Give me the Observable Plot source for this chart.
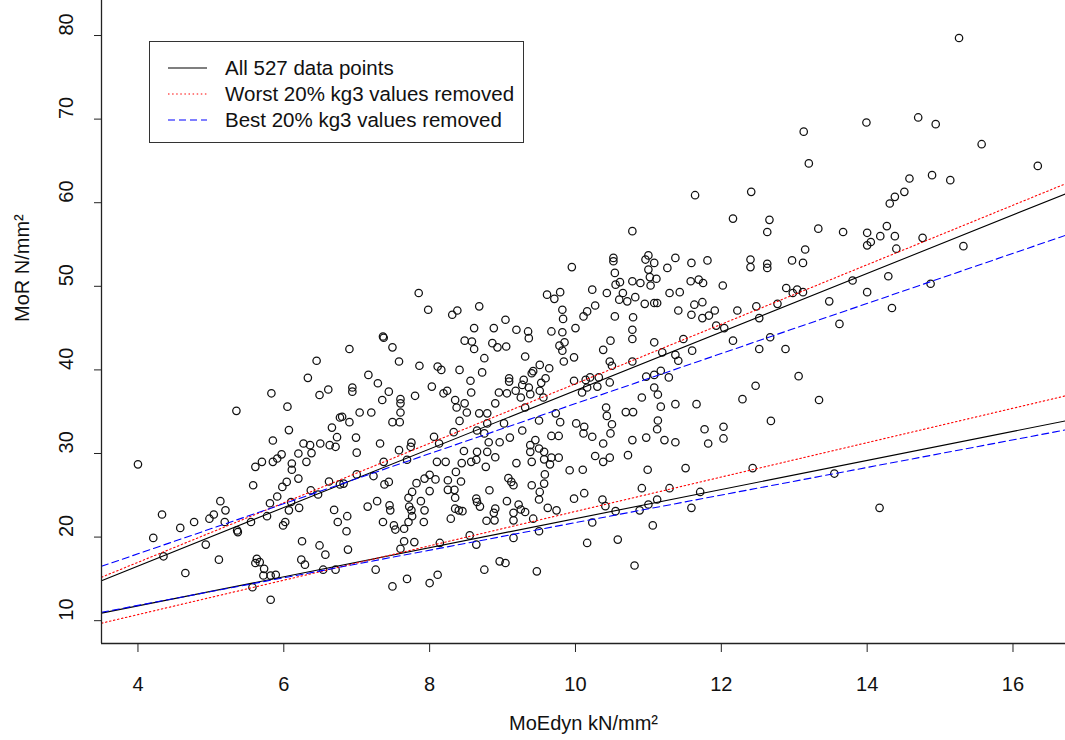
<!DOCTYPE html>
<html><head><meta charset="utf-8">
<script src="https://cdn.jsdelivr.net/npm/d3@7"></script>
<script src="https://cdn.jsdelivr.net/npm/@observablehq/plot@0.6"></script>
<style>
body{margin:0;background:#fff;font-family:"Liberation Sans",Arial,sans-serif;}
#wrap{position:relative;width:1065px;height:740px;overflow:hidden;}
#legend{position:absolute;left:149px;top:41px;width:375px;height:102px;border:1.3px solid #333;background:#fff;box-sizing:border-box;}
#legend .row{position:absolute;left:0;height:26px;display:flex;align-items:center;}
#legend svg{position:absolute;left:18px;}
#legend span{position:absolute;left:75px;white-space:nowrap;font-size:20.5px;color:#111;line-height:26px;}
</style></head><body><div id="wrap"></div>
<script>
// ---- scatter points, MoEdyn (kN/mm2) and MoR (N/mm2), grouped by region of the plot ----
const moedynUpperRight = [13.13,13.2,11.64,12.41,12.16,12.66,10.78,13.33,12.63,15.26,
  13.99,14.7,14.94,15.57,16.34,14.58,14.89,15.14,14.51,14.38,
  14.31,14.27,13.67,14.0,14.18,14.38,14.76,14.05,14.0,14.4,
  15.32,13.8,14.29,14.87,14.0,13.48,14.34,13.62,13.34,13.55,
  14.17];
const morUpperRight = [68.5,64.7,60.9,61.3,58.1,57.95,56.6,56.9,56.5,79.7,
  69.6,70.2,69.4,67.0,64.4,62.9,63.3,62.7,61.3,60.7,
  59.9,57.2,56.5,56.4,56.0,56.0,55.8,55.3,54.9,54.5,
  54.8,50.7,51.2,50.3,49.3,48.2,47.4,45.5,36.4,27.6,
  23.5];
const moedynMidRight = [13.15,10.52,10.52,11.0,10.96,11.08,11.37,11.59,11.81,12.4,
  12.4,12.63,12.63,12.97,13.12,11.26,11.0,10.54,11.02,11.11,
  10.61,10.55,10.78,10.89,11.03,11.58,11.69,11.75,12.02,10.23,
  10.43,10.65,11.29,11.43,10.6,10.71,10.82,10.95,11.08,11.12,
  10.27,10.16,10.11,10.54,10.79,11.41,11.59,11.63,11.74,11.74,
  11.83,11.91,12.22,12.48,12.52,12.77,12.89,13.04,13.12,12.98,
  10.78,10.78,10.48,10.38,11.08,11.48,11.93,12.04,12.16,11.6,
  11.19,11.37,11.41,10.47,10.5,10.78,10.14,10.16,10.3,10.47,
  10.97,11.08,11.17,11.28,11.08,11.13,10.91,11.37,11.66,11.17,
  12.29,12.47,12.52,12.67,12.88,13.06,12.68,12.03,11.77,11.13,
  11.12,10.69,10.79,10.42,10.43,10.5,10.12,10.09,10.2,10.32];
const morMidRight = [54.4,53.4,53.0,53.7,53.2,52.8,53.4,52.8,53.1,53.2,
  52.3,52.7,52.2,53.1,52.8,52.2,52.0,51.6,51.1,50.9,
  50.5,50.2,50.6,50.4,50.1,50.6,50.8,50.4,50.1,49.6,
  49.2,49.2,49.2,49.3,48.4,48.2,48.7,47.9,48.0,48.0,
  47.7,47.0,46.4,46.4,46.3,47.1,46.6,47.8,48.1,46.2,
  46.5,47.1,47.1,47.6,46.2,47.9,49.8,49.6,49.3,49.2,
  44.8,43.7,43.5,42.4,43.3,43.7,45.3,45.0,43.5,42.3,
  42.1,41.8,41.1,41.0,40.5,41.0,38.8,37.9,38.0,38.5,
  39.2,39.4,39.9,39.1,37.9,37.05,36.7,35.9,35.9,35.6,
  36.5,38.1,42.5,43.9,42.5,39.25,33.9,33.2,32.9,33.95,
  32.9,34.95,34.95,35.5,34.5,33.5,33.2,37.3,39.1,39.1];
const moedynLowRight = [10.11,10.23,10.48,10.38,10.78,10.97,11.22,11.37,11.82,12.03,
  10.27,10.38,10.47,10.72,10.1,10.99,11.51,12.43,10.12,10.91,
  11.29,11.71,10.37,10.41,10.55,10.88,11.0,11.12,11.59,10.23,
  11.06,10.16,10.58,10.81];
const morLowRight = [32.4,32.0,32.4,31.2,31.6,31.9,31.6,31.35,31.2,31.8,
  29.7,29.0,29.5,29.8,28.05,28.05,28.25,28.25,25.25,25.85,
  25.85,25.4,24.5,23.7,23.1,23.2,23.9,24.5,23.5,21.75,
  21.4,19.3,19.7,16.6];
const moedynMidCentre = [9.95,7.85,9.61,9.79,9.71,7.98,8.68,8.31,8.38,9.04,
  9.82,9.83,8.61,8.88,9.19,9.35,9.36,9.67,9.82,10.0,
  7.36,7.37,8.48,8.58,8.61,8.86,8.93,9.05,9.78,9.85,
  9.82,9.98,9.84,6.9,7.49,8.75,9.31,7.58,7.86,8.11,
  8.16,8.41,8.72,9.51,9.42,9.64,7.16,7.29,8.56,9.09,
  9.09,9.29,9.4,9.59,9.53,9.98,6.94,6.94,8.03,7.44,
  8.19,8.24,8.57,8.95,9.06,9.18,9.36,9.27,9.51,9.38,
  7.35,7.6,7.6,7.8,8.35,8.48,8.37,8.51,8.9,8.68,
  8.79,9.02,9.31,9.5,9.73,9.79,10.01,7.04,7.2,7.6,
  6.8,6.9,7.49,7.59,8.41,8.79,9.25,9.56];
const morMidCentre = [52.3,49.2,49.0,49.3,48.5,47.2,47.6,46.6,47.1,46.0,
  47.2,46.1,45.0,45.0,44.8,44.6,43.8,44.6,44.5,45.0,
  44.0,43.85,43.5,43.4,42.5,43.2,42.7,42.8,42.9,43.3,
  42.3,41.5,41.0,42.5,42.7,41.4,41.6,41.0,40.5,40.4,
  40.0,40.0,39.7,40.6,39.85,40.2,39.4,38.4,38.7,39.0,
  38.6,38.8,39.6,39.0,38.45,38.7,37.9,37.4,38.0,37.4,
  37.2,37.5,37.3,37.3,37.2,37.5,37.9,38.2,37.5,37.1,
  36.4,36.5,36.0,36.9,36.4,36.0,35.5,34.9,36.0,34.8,
  34.8,33.6,35.5,33.95,34.8,33.75,33.6,34.9,34.9,34.9,
  34.4,33.75,33.75,33.75,33.9,33.6,36.7,36.7];
const moedynLowCentre = [6.99,7.32,7.0,7.58,7.75,7.74,8.06,8.13,8.33,8.65,
  8.75,8.81,8.96,9.1,9.27,9.38,9.45,9.5,9.57,9.67,
  9.77,9.67,9.77,9.38,9.57,9.65,9.4,7.37,7.69,8.65,
  8.79,8.47,8.1,8.22,8.44,8.57,8.64,8.9,9.19,8.77,
  9.92,7.0,7.23,7.38,7.44,6.82,7.82,7.93,8.0,8.08,
  8.25,8.36,8.43,8.34,8.0,7.76,7.71,7.88,7.72,7.75,
  7.93,7.76,7.92,7.71,7.65,7.51,7.53,7.36,7.45,7.46,
  7.28,7.15,6.87,6.86,6.88,7.65,7.79,7.6,7.26,7.69,
  7.49,8.0,8.11,8.25,8.35,8.4,8.29,8.45,8.35,8.64,
  8.65,8.69,8.82,9.06,8.9,8.88,8.78,8.89,8.55,8.64,
  8.14,9.08,9.12,9.15,9.22,9.15,9.15,9.25,9.31,9.15,
  8.96,9.04,8.75,9.47,9.4,9.51,9.5,9.58,9.57,9.62,
  9.74,9.42,9.5,9.98];
const morLowCentre = [31.9,31.2,30.1,30.4,31.3,30.8,32.0,31.2,32.55,32.75,
  32.4,31.35,31.35,31.9,32.75,31.0,31.6,30.6,30.2,32.1,
  32.1,29.5,29.5,30.2,29.3,28.7,29.0,29.0,29.25,30.2,
  30.2,30.3,29.0,29.0,28.85,29.0,29.25,29.55,28.85,28.4,
  28.0,27.5,27.3,26.3,26.6,26.4,26.45,27.0,27.45,26.9,
  26.8,27.8,26.65,25.65,25.5,25.4,24.7,24.3,23.65,23.2,
  23.2,22.5,21.8,21.8,21.0,21.4,20.9,21.8,23.8,23.2,
  24.3,23.65,22.5,20.7,18.5,19.5,19.4,18.6,16.1,15.0,
  14.1,14.5,15.5,25.65,24.7,23.2,22.2,23.1,23.4,24.6,
  24.2,23.65,25.6,24.3,23.4,22.9,21.95,22.0,20.2,19.1,
  19.3,27.05,26.6,26.2,23.9,22.9,22.0,23.3,23.0,19.9,
  17.1,16.9,16.1,15.9,26.2,25.4,24.5,27.5,26.4,23.5,
  23.2,22.2,20.7,24.6];
const moedynLowLeft = [4.0,5.85,6.27,6.36,6.38,6.5,6.63,6.71,6.73,6.2,
  5.97,5.91,5.85,5.7,5.61,6.11,6.11,6.31,5.58,6.2,
  6.04,5.98,5.91,5.81,6.1,6.07,6.21,6.37,6.47,6.62,
  6.69,6.74,6.77,5.13,5.2,5.04,4.98,5.19,4.77,4.58,
  4.33,4.21,4.35,4.65,4.93,5.11,5.36,5.37,5.55,5.77,
  5.99,6.02,6.25,6.49,6.57,6.24,6.29,5.63,5.67,5.61,
  5.73,5.72,5.82,5.89,5.57,5.82,6.54,6.71];
const morLowLeft = [28.7,31.55,31.2,31.0,30.05,31.2,31.0,30.8,31.95,30.0,
  29.9,29.4,29.0,29.0,28.4,28.8,28.05,29.0,26.2,27.0,
  26.6,26.0,24.85,24.05,24.2,23.2,23.5,25.6,25.1,26.65,
  23.25,21.8,26.3,24.3,23.2,22.7,22.2,21.8,21.8,21.1,
  22.7,19.9,17.7,15.7,19.1,17.3,20.8,20.6,21.8,22.5,
  21.4,21.8,19.5,19.0,17.9,17.3,16.7,17.4,17.0,16.9,
  16.2,15.4,15.4,15.5,14.0,12.5,16.1,16.1];
const moedynMidLeft = [6.45,6.33,5.83,6.61,6.49,5.35,6.05,6.07,6.66,6.77];
const morMidLeft = [41.1,39.05,37.2,37.65,37.0,35.1,35.6,32.8,33.1,34.3];

// ---- fitted lines (intercept + slope * MoEdyn), upper and lower line per fit ----
const fitNames = ["All 527 data points", "Worst 20% kg3 values removed", "Best 20% kg3 values removed"];
const upperIntercept = [2.54, 2.74, 6.02];
const upperSlope = [3.50, 3.56, 2.995];
const lowerIntercept = [4.81, 2.50, 5.23];
const lowerSlope = [1.74, 2.057, 1.65];

// ---- axes ----
const xTicks = [4, 6, 8, 10, 12, 14, 16];
const yTicks = [10, 20, 30, 40, 50, 60, 70, 80];
const xDomain = [3.5, 16.72];
const yDomain = [7.27, 84.19];
const xTitle = "MoEdyn kN/mm²";
const yTitle = "MoR N/mm²";

// styles
const fitColors = ["#000000", "#ff0000", "#0000ff"];
const fitDash = [null, "1.5,2.6", "7,4"];

const groups = [
  [moedynUpperRight, morUpperRight], [moedynMidRight, morMidRight], [moedynLowRight, morLowRight],
  [moedynMidCentre, morMidCentre], [moedynLowCentre, morLowCentre], [moedynLowLeft, morLowLeft],
  [moedynMidLeft, morMidLeft]
];
const points = [];
groups.forEach(([xs, ys], g) => {
  if (xs.length !== ys.length) console.error("length mismatch in group", g, xs.length, ys.length);
  xs.forEach((x, i) => points.push({moedyn: x, mor: ys[i]}));
});

const fitLines = [];
fitNames.forEach((name, i) => {
  [["upper", upperIntercept[i], upperSlope[i]], ["lower", lowerIntercept[i], lowerSlope[i]]].forEach(([part, a, b]) => {
    xDomain.forEach(x => fitLines.push({name, key: name + part, moedyn: x, mor: a + b * x}));
  });
});

const font = '"Liberation Sans", Arial, sans-serif';
const chart = Plot.plot({
  width: 1065, height: 740,
  marginLeft: 101, marginRight: 0, marginTop: 0, marginBottom: 97,
  style: {fontFamily: font, fontSize: "20px", background: "#fff", color: "#111"},
  x: {domain: xDomain, label: null},
  y: {domain: yDomain, label: null},
  marks: [
    Plot.dot(points, {x: "moedyn", y: "mor", r: 3.7, stroke: "#111", strokeWidth: 1.25, fill: "none"}),
    ...fitNames.map((n, i) => Plot.line(fitLines.filter(d => d.name === n), {
      x: "moedyn", y: "mor", z: "key", stroke: fitColors[i], strokeWidth: 1.1,
      strokeDasharray: fitDash[i] ?? undefined
    })),
    Plot.ruleX([xDomain[0]], {stroke: "#222", strokeWidth: 1.3}),
    Plot.ruleY([yDomain[0]], {stroke: "#222", strokeWidth: 1.3}),
    Plot.axisX(xTicks, {tickSize: 9, tickPadding: 24, fontSize: 20, stroke: "#222", label: null}),
    Plot.axisY(yTicks, {tickSize: 7, tickFormat: () => "", stroke: "#222", label: null}),
    Plot.text(yTicks, {y: d => d, text: d => String(d), frameAnchor: "left", dx: -35, rotate: -90, fontSize: 20, fill: "#111"}),
    Plot.text([xTitle], {frameAnchor: "bottom", dy: 80, lineAnchor: "middle", fontSize: 20, fill: "#111"}),
    Plot.text([yTitle], {frameAnchor: "left", dx: -79, rotate: -90, lineAnchor: "middle", fontSize: 20, fill: "#111"})
  ]
});
const wrap = document.getElementById("wrap");
wrap.appendChild(chart);

// legend (HTML overlay)
const legend = document.createElement("div");
legend.id = "legend";
fitNames.forEach((n, i) => {
  const row = document.createElement("div");
  row.className = "row";
  row.style.top = (13 + i * 25.8) + "px";
  row.style.width = "100%";
  const svg = d3.create("svg").attr("width", 40).attr("height", 6);
  svg.append("line").attr("x1", 0).attr("x2", 39).attr("y1", 3).attr("y2", 3)
    .attr("stroke", fitColors[i]).attr("stroke-width", 1.2)
    .attr("stroke-dasharray", fitDash[i]);
  row.appendChild(svg.node());
  const span = document.createElement("span");
  span.textContent = n;
  row.appendChild(span);
  legend.appendChild(row);
});
wrap.appendChild(legend);
</script>
</body></html>
